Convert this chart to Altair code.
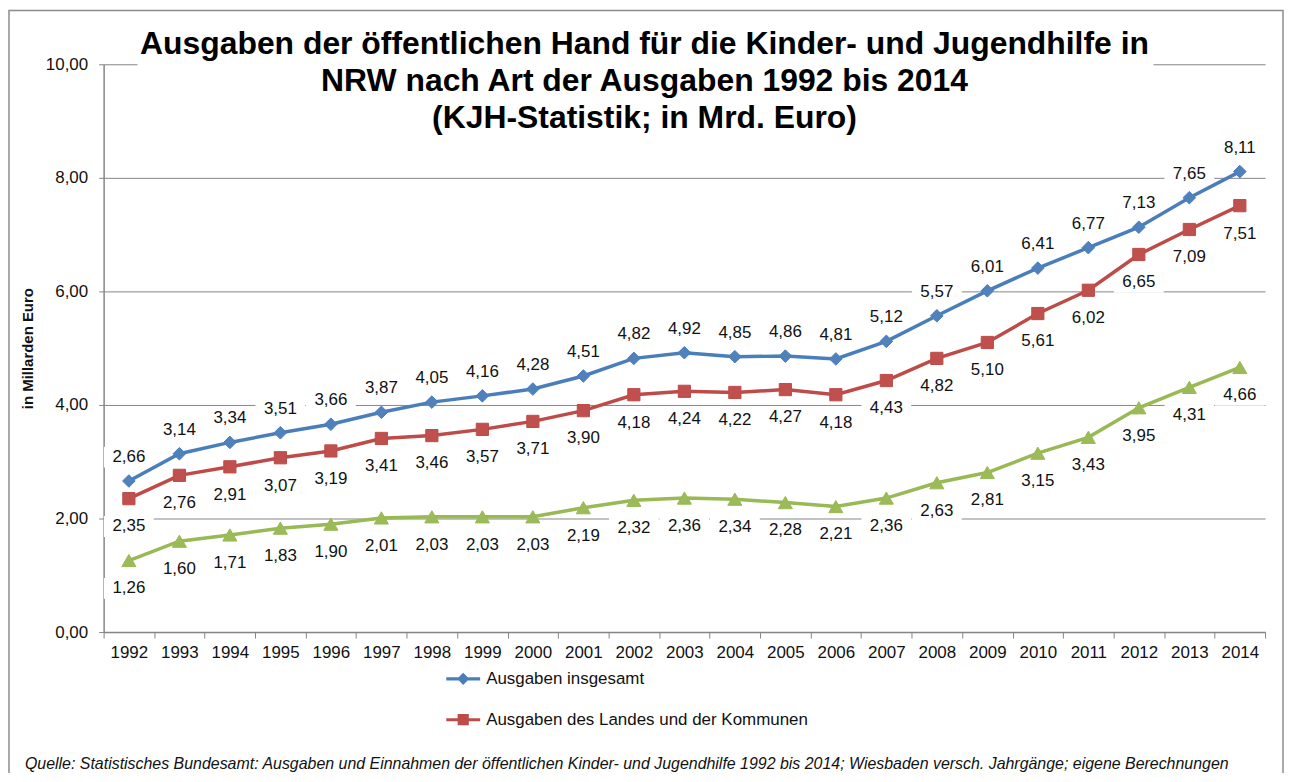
import altair as alt
import pandas as pd

years = [str(y) for y in range(1992, 2015)]
s_total = "Ausgaben insgesamt"
s_land = "Ausgaben des Landes und der Kommunen"
s_third = "Ausgaben der Kommunen"
total = [2.66, 3.14, 3.34, 3.51, 3.66, 3.87, 4.05, 4.16, 4.28, 4.51, 4.82, 4.92,
         4.85, 4.86, 4.81, 5.12, 5.57, 6.01, 6.41, 6.77, 7.13, 7.65, 8.11]
land = [2.35, 2.76, 2.91, 3.07, 3.19, 3.41, 3.46, 3.57, 3.71, 3.90, 4.18, 4.24,
        4.22, 4.27, 4.18, 4.43, 4.82, 5.10, 5.61, 6.02, 6.65, 7.09, 7.51]
third = [1.26, 1.60, 1.71, 1.83, 1.90, 2.01, 2.03, 2.03, 2.03, 2.19, 2.32, 2.36,
         2.34, 2.28, 2.21, 2.36, 2.63, 2.81, 3.15, 3.43, 3.95, 4.31, 4.66]

title_lines = ["Ausgaben der öffentlichen Hand für die Kinder- und Jugendhilfe in",
               "NRW nach Art der Ausgaben 1992 bis 2014",
               "(KJH-Statistik; in Mrd. Euro)"]
y_title = "in Millarden Euro"
source = ("Quelle: Statistisches Bundesamt: Ausgaben und Einnahmen der öffentlichen Kinder- und "
          "Jugendhilfe 1992 bis 2014; Wiesbaden versch. Jahrgänge; eigene Berechnungen")

FONT = "Liberation Sans"
W, H = 1166, 570

series = [
    # name, values, line colour, marker fill, shape, marker size, label dy
    (s_total, total, "#4A7EBB", "#4F81BD", "diamond", 160, -24),
    (s_land, land, "#BE4B48", "#C0504D", "square", 150, 28),
    (s_third, third, "#98B954", "#9BBB59", "triangle-up", 200, 28),
]

frames = []
for name, vals, *_ in series:
    frames.append(pd.DataFrame({"year": years, "value": vals, "series": name,
                                "label": [f"{v:.2f}".replace(".", ",") for v in vals]}))
df = pd.concat(frames, ignore_index=True)

x_enc = alt.X("year:N", scale=alt.Scale(type="band", paddingInner=0, paddingOuter=0),
              axis=alt.Axis(title=None, labelAngle=0, labelFontSize=17, labelFont=FONT,
                            labelColor="#111", tickBand="extent", tickSize=6,
                            tickColor="#868686", domainColor="#868686", domainWidth=1.5,
                            labelPadding=7, grid=False))
y_enc = alt.Y("value:Q", scale=alt.Scale(domain=[0, 10], nice=False),
              axis=alt.Axis(title=y_title, titleFont=FONT, titleFontSize=15,
                            titleFontWeight="bold", titleColor="#111", titlePadding=10,
                            values=[0, 2, 4, 6, 8, 10], labelFontSize=17, labelFont=FONT,
                            labelColor="#111", labelPadding=11, tickSize=5,
                            tickColor="#868686", domainColor="#868686", domainWidth=1.5,
                            gridColor="#868686", gridWidth=1,
                            labelExpr="replace(format(datum.value, '.2f'), '.', ',')"))

one = pd.DataFrame({"k": [0]})

frame = alt.Chart(one).mark_rect(fill=None, stroke="#8c8c8c", strokeWidth=1.5).encode(
    x=alt.value(-95), x2=alt.value(1184), y=alt.value(-54), y2=alt.value(760))

box_path = "M-1,-0.42L1,-0.42L1,0.42L-1,0.42Z"
layers = [frame]
for name, vals, lc, mc, shp, msz, dy in series:
    d = df[df.series == name]
    layers.append(alt.Chart(d).mark_point(shape=box_path, size=2500, filled=True,
                                          color="white", opacity=1, yOffset=dy)
                  .encode(x=x_enc, y=y_enc))

title_box = alt.Chart(one).mark_rect(color="white").encode(
    x=alt.value(34), x2=alt.value(1054), y=alt.value(-3), y2=alt.value(3))
layers.append(title_box)

for name, vals, lc, mc, shp, msz, dy in series:
    d = df[df.series == name]
    base = alt.Chart(d)
    layers.append(base.mark_line(color=lc, strokeWidth=3.5).encode(x=x_enc, y=y_enc))
    layers.append(base.mark_point(shape=shp, size=msz, filled=True, color=mc,
                                  stroke=lc, strokeWidth=1, opacity=1)
                  .encode(x=x_enc, y=y_enc))
for name, vals, lc, mc, shp, msz, dy in series:
    d = df[df.series == name]
    layers.append(alt.Chart(d).mark_text(font=FONT, fontSize=17, color="#111",
                                         baseline="middle", align="center", dy=dy)
                  .encode(x=x_enc, y=y_enc, text="label:N"))

names = [s[0] for s in series]
seg = "M-1,-0.09L1,-0.09L1,0.09L-1,0.09Z"
legend_paths = [seg + "M0,-0.36L0.36,0L0,0.36L-0.36,0Z",
                seg + "M-0.33,-0.33L0.33,-0.33L0.33,0.33L-0.33,0.33Z",
                seg + "M0,-0.36L0.36,0.28L-0.36,0.28Z"]
leg = alt.Legend(title=None, orient="none", legendX=344, legendY=600, direction="vertical",
                 labelFont=FONT, labelFontSize=17, labelColor="#111", symbolSize=1156,
                 symbolStrokeWidth=0, rowPadding=16, labelOffset=6, padding=0,
                 labelLimit=800, values=[s_total, s_land])
legend_layer = alt.Chart(df).transform_filter("false").mark_point(filled=True, opacity=1).encode(
    x=x_enc, y=y_enc,
    color=alt.Color("series:N", scale=alt.Scale(domain=names, range=[s[2] for s in series]),
                    legend=leg),
    shape=alt.Shape("series:N", scale=alt.Scale(domain=names, range=legend_paths), legend=leg),
)
layers.append(legend_layer)

title_text = alt.Chart(one).mark_text(
    text=title_lines, font=FONT, fontSize=32, fontWeight="bold", color="#000",
    align="center", baseline="alphabetic", lineHeight=37).encode(
    x=alt.value(543), y=alt.value(-10))
src_text = alt.Chart(one).mark_text(
    text=source, font=FONT, fontSize=16, fontStyle="italic", color="#111",
    align="left", baseline="alphabetic").encode(x=alt.value(-79), y=alt.value(707))
layers += [title_text, src_text]

chart = alt.layer(*layers).properties(
    width=W, height=H,
    padding={"left": 96, "top": 55, "right": 20, "bottom": 140},
    autosize=alt.AutoSizeParams(type="none"),
    background="white",
).configure_view(stroke=None)

chart.save("out.html", embed_options={"renderer": "svg", "actions": False})
